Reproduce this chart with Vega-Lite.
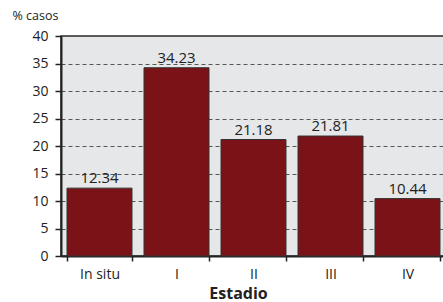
{
  "$schema": "https://vega.github.io/schema/vega-lite/v6.json",
  "autosize": "none",
  "width": 385,
  "height": 220,
  "padding": {"left": 61, "top": 36, "right": 0, "bottom": 46},
  "background": "white",
  "config": {
    "font": "Open Sans",
    "view": {"fill": "#E6E7E9", "stroke": "#2b2b2b", "strokeWidth": 1.5}
  },
  "data": {
    "values": [
      {"estadio": "In situ", "pct": 12.34},
      {"estadio": "I", "pct": 34.23},
      {"estadio": "II", "pct": 21.18},
      {"estadio": "III", "pct": 21.81},
      {"estadio": "IV", "pct": 10.44}
    ]
  },
  "encoding": {
    "x": {
      "field": "estadio",
      "type": "nominal",
      "sort": null,
      "scale": {"paddingInner": 0.156, "paddingOuter": 0.078},
      "axis": {
        "title": "Estadio",
        "titleFont": "Open Sans",
        "titleFontWeight": "bold",
        "titleFontSize": 16,
        "titleColor": "#222",
        "titlePadding": 4,
        "titleX": 177,
        "labelAngle": 0,
        "labelFontSize": 14,
        "labelColor": "#222",
        "labelPadding": 6,
        "tickBand": "extent",
        "tickSize": 5,
        "tickColor": "#222",
        "tickWidth": 1.5,
        "domainColor": "#222",
        "domainWidth": 2,
        "grid": false
      }
    },
    "y": {
      "field": "pct",
      "type": "quantitative",
      "scale": {"domain": [0, 40], "nice": false},
      "axis": {
        "title": "% casos",
        "titleAngle": 0,
        "titleAlign": "left",
        "titleBaseline": "middle",
        "titleX": -49,
        "titleY": -21,
        "titleFontSize": 12.5,
        "titleFontWeight": "normal",
        "titleColor": "#222",
        "values": [0, 5, 10, 15, 20, 25, 30, 35, 40],
        "labelFontSize": 14,
        "labelColor": "#222",
        "labelPadding": 7,
        "tickSize": 6,
        "tickColor": "#222",
        "tickWidth": 1.5,
        "domainColor": "#222",
        "domainWidth": 2,
        "grid": true,
        "gridColor": "#555",
        "gridDash": [4, 3],
        "gridWidth": 1
      }
    }
  },
  "layer": [
    {
      "mark": {"type": "bar", "color": "#7B1217", "stroke": "#333", "strokeWidth": 1}
    },
    {
      "mark": {"type": "text", "baseline": "bottom", "dy": -2, "fontSize": 15, "color": "#222", "font": "Open Sans"},
      "encoding": {
        "text": {"field": "pct", "type": "quantitative", "format": ".2f"}
      }
    }
  ]
}
